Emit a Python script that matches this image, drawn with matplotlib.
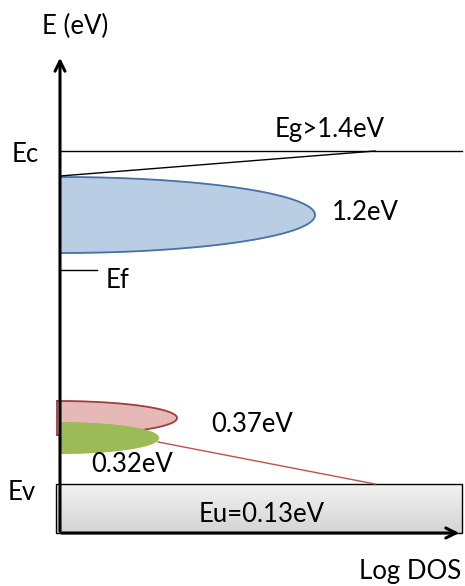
import matplotlib
matplotlib.use("Agg")
import matplotlib.pyplot as plt
import numpy as np

plt.rcParams["font.family"] = ["Lato", "DejaVu Sans"]

# schematic band levels (drawing units, y grows downward)
ec_level = 151
ev_level = 484
ef_level = 270
axis_bottom = 533
axis_top = 55
axis_x = 60
right_edge = 462

# tail/defect bands: name, center, half height, extent, fill, edge
band_names = ["deep", "tail_037", "tail_032"]
band_center = [215, 418, 438]
band_half = [38, 17, 15]
band_extent = [255, 120, 98]
band_fill = ["#b9cde5", "#e6b9b8", "#9bbb59"]
band_edge = ["#4a72a4", "#a04040", "#9bbb59"]
band_left = [60, 57, 60]

# gap line end, urbach tail line
gap_line_x = [60, 375]
gap_line_y = [176, 151]
tail_line_x = [158, 375]
tail_line_y = [442, 484]

labels = ["E (eV)", "Ec", "Eg>1.4eV", "1.2eV", "Ef", "0.37eV", "0.32eV", "Ev", "Eu=0.13eV", "Log DOS"]
label_x = [75, 25, 330, 365, 118, 252, 132, 22, 262, 410]
label_y = [26, 155, 129, 212, 281, 424, 465, 492, 514, 571]

fig = plt.figure(figsize=(4.65, 5.86), dpi=100)
ax = fig.add_axes([0, 0, 1, 1])
ax.set_xlim(0, 465)
ax.set_ylim(586, 0)
ax.axis("off")

# Urbach box with soft gradient
grad = np.linspace(0, 1, 64).reshape(-1, 1)
ax.imshow(grad, cmap=matplotlib.colors.LinearSegmentedColormap.from_list("g", ["#f2f2f2", "#d4d4d4"]),
          extent=(56, right_edge, axis_bottom, ev_level), aspect="auto", zorder=1)
ax.add_patch(plt.Rectangle((56, ev_level), right_edge - 56, axis_bottom - ev_level,
                           fill=False, edgecolor="black", lw=1, zorder=2))

# half-ellipse bands
t = np.linspace(-np.pi / 2, np.pi / 2, 200)
for left, c, h, w, fc, ec in zip(band_left, band_center, band_half, band_extent, band_fill, band_edge):
    xs = left + w * np.cos(t)
    ys = c + h * np.sin(t)
    ax.fill(np.r_[xs, left], np.r_[ys, ys[0]], color=fc, zorder=3)
    ax.plot(xs, ys, color=ec, lw=1.3, zorder=3)
    ax.plot([left, left], [c - h, c + h], color=ec, lw=1.3, zorder=3)

# levels
ax.plot([axis_x, right_edge], [ec_level, ec_level], color="black", lw=1, zorder=4)
ax.plot(gap_line_x, gap_line_y, color="black", lw=1, zorder=4)
ax.plot([axis_x, 97], [ef_level, ef_level], color="black", lw=1, zorder=4)
ax.plot(tail_line_x, tail_line_y, color="#c0504d", lw=1, zorder=4)

# axes arrows
ax.annotate("", xy=(axis_x, axis_top), xytext=(axis_x, axis_bottom + 1),
            arrowprops=dict(arrowstyle="->", lw=2.2, color="black", mutation_scale=18), zorder=5)
ax.annotate("", xy=(right_edge, axis_bottom), xytext=(axis_x - 1, axis_bottom),
            arrowprops=dict(arrowstyle="->", lw=2.2, color="black", mutation_scale=18), zorder=5)

for s, x, y in zip(labels, label_x, label_y):
    ax.text(x, y, s, fontsize=18.5, ha="center", va="center", color="black", zorder=6)

fig.savefig("out.png", dpi=100)
